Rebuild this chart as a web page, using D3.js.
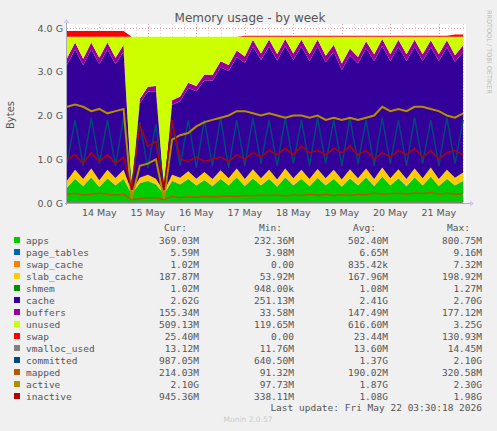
<!DOCTYPE html>
<html><head><meta charset="utf-8">
<script src="https://cdn.jsdelivr.net/npm/d3@7"></script>
<style>body{margin:0;background:#f0f0f0}svg{display:block}</style>
</head><body><svg id="chart" width="497" height="431"></svg>
<script>
// samples every 4 hours from 13 May 08:00, values in GB
var apps = [0.35,0.55,0.38,0.58,0.36,0.56,0.4,0.55,0.2,0.45,0.5,0.42,0.2,0.5,0.42,0.55,0.4,0.52,0.38,0.55,0.4,0.58,0.38,0.56,0.4,0.55,0.37,0.58,0.4,0.55,0.38,0.57,0.4,0.55,0.37,0.56,0.4,0.58,0.38,0.6,0.4,0.56,0.38,0.58,0.4,0.6,0.38,0.55,0.4,0.5];
var pageTables = [0.006,0.007,0.006,0.007,0.006,0.007,0.006,0.007,0.004,0.006,0.006,0.006,0.004,0.006,0.006,0.007,0.006,0.007,0.006,0.007,0.006,0.007,0.006,0.007,0.006,0.007,0.006,0.007,0.006,0.007,0.006,0.007,0.006,0.007,0.006,0.007,0.006,0.007,0.006,0.007,0.006,0.007,0.006,0.007,0.006,0.007,0.006,0.007,0.006,0.006];
var swapCache = [0.002,0.001,0.002,0.001,0.002,0.001,0.002,0.001,0,0,0,0,0,0,0,0,0,0,0,0,0,0,0.001,0.001,0.001,0.001,0.001,0.001,0.001,0.001,0.001,0.001,0.001,0.001,0.001,0.001,0.001,0.001,0.001,0.001,0.001,0.001,0.001,0.001,0.001,0.001,0.001,0.001,0.001,0.001];
var slabCache = [0.15,0.2,0.16,0.2,0.15,0.19,0.16,0.2,0.06,0.12,0.14,0.13,0.06,0.14,0.15,0.17,0.15,0.18,0.16,0.19,0.16,0.2,0.16,0.2,0.16,0.2,0.16,0.2,0.16,0.2,0.16,0.2,0.16,0.2,0.16,0.2,0.16,0.2,0.16,0.2,0.16,0.2,0.16,0.2,0.16,0.2,0.16,0.2,0.17,0.19];
var shmem = [0.001,0.001,0.001,0.001,0.001,0.001,0.001,0.001,0.001,0.001,0.001,0.001,0.001,0.001,0.001,0.001,0.001,0.001,0.001,0.001,0.001,0.001,0.001,0.001,0.001,0.001,0.001,0.001,0.001,0.001,0.001,0.001,0.001,0.001,0.001,0.001,0.001,0.001,0.001,0.001,0.001,0.001,0.001,0.001,0.001,0.001,0.001,0.001,0.001,0.001];
var cache = [2.65,2.75,2.6,2.72,2.65,2.75,2.6,2.7,0.05,1.7,1.9,2.0,0.05,1.6,1.75,1.9,2.0,2.1,2.25,2.35,2.45,2.55,2.65,2.8,2.7,2.82,2.72,2.8,2.7,2.82,2.7,2.8,2.65,2.7,2.5,2.6,2.62,2.75,2.7,2.78,2.68,2.8,2.7,2.78,2.68,2.75,2.7,2.8,2.65,2.75];
var buffers = [0.15,0.16,0.15,0.16,0.15,0.16,0.15,0.16,0.03,0.1,0.11,0.12,0.03,0.1,0.11,0.12,0.12,0.13,0.13,0.14,0.14,0.15,0.15,0.16,0.15,0.16,0.15,0.16,0.15,0.16,0.15,0.16,0.15,0.16,0.15,0.16,0.15,0.16,0.15,0.16,0.15,0.16,0.15,0.16,0.15,0.16,0.15,0.16,0.15,0.16];
var swap = [0.13,0.13,0.13,0.13,0.13,0.13,0.13,0.13,0,0,0,0,0,0,0,0,0,0,0,0,0,0,0.025,0.025,0.025,0.025,0.025,0.025,0.025,0.025,0.025,0.025,0.025,0.025,0.025,0.025,0.025,0.025,0.025,0.025,0.025,0.025,0.025,0.025,0.025,0.025,0.025,0.025,0.05,0.05];
var memTotal = 3.8;
var vmalloc = [0.013,0.013,0.013,0.014,0.013,0.014,0.013,0.014,0.012,0.013,0.013,0.013,0.012,0.013,0.013,0.014,0.013,0.014,0.013,0.014,0.013,0.014,0.013,0.014,0.013,0.014,0.013,0.014,0.013,0.014,0.013,0.014,0.013,0.014,0.013,0.014,0.013,0.014,0.013,0.014,0.013,0.014,0.013,0.014,0.013,0.014,0.013,0.014,0.013,0.013];
var committed = [0.9,1.9,0.85,1.95,0.9,1.9,0.85,1.95,0.35,1.85,0.8,1.8,0.3,1.85,0.85,1.9,0.8,1.9,0.85,1.95,0.8,1.9,0.85,1.95,0.9,1.9,0.85,1.95,0.9,1.9,0.85,1.95,0.9,1.9,0.85,1.95,0.9,1.9,0.85,1.95,0.9,1.9,0.85,1.95,0.9,1.9,0.85,1.95,0.9,1.9];
var mapped = [0.2,0.22,0.18,0.2,0.22,0.2,0.18,0.2,0.08,0.1,0.12,0.12,0.08,0.15,0.12,0.14,0.13,0.15,0.14,0.15,0.16,0.15,0.17,0.16,0.18,0.17,0.18,0.16,0.18,0.17,0.2,0.18,0.2,0.17,0.19,0.18,0.2,0.19,0.22,0.2,0.21,0.22,0.2,0.23,0.22,0.24,0.2,0.22,0.2,0.21];
var active = [2.2,2.25,2.2,2.1,2.15,2.05,2.1,2.15,0.1,0.85,0.9,1.0,0.1,1.45,1.55,1.6,1.75,1.85,1.9,1.95,2.0,2.1,2.1,2.05,2.0,2.05,2.0,1.95,2.0,2.0,1.95,2.0,1.9,1.95,1.9,1.95,1.9,1.95,2.0,2.2,2.1,2.15,2.1,2.2,2.2,2.15,2.1,2.0,1.95,2.05];
var inactive = [1.0,1.1,0.9,1.15,0.95,1.1,0.9,1.05,0.3,1.8,1.3,1.4,0.3,1.9,1.0,0.95,1.05,0.95,1.0,1.05,0.95,1.1,1.0,1.15,1.05,1.2,1.1,1.25,1.1,1.3,1.15,1.2,1.1,1.25,1.15,1.3,1.1,1.2,1.0,1.15,1.05,1.2,1.1,1.25,1.05,1.2,1.0,1.15,1.2,1.1];

var dayLabels = ["14 May","15 May","16 May","17 May","18 May","19 May","20 May","21 May"];
var yTicks = [0,1,2,3,4];

var legendNames = ["apps","page_tables","swap_cache","slab_cache","shmem","cache","buffers","unused","swap","vmalloc_used","committed","mapped","active","inactive"];
var legendColors = ["#00CC00","#0066B3","#FF8000","#FFCC00","#008F00","#330099","#990099","#CCFF00","#FF0000","#808080","#00487D","#B35A00","#B38F00","#B30000"];
var curVals = ["369.03M","5.59M","1.02M","187.87M","1.02M","2.62G","155.34M","509.13M","25.40M","13.12M","987.05M","214.03M","2.10G","945.36M"];
var minVals = ["232.36M","3.98M","0.00","53.92M","948.00k","251.13M","33.58M","119.65M","0.00","11.76M","640.50M","91.32M","97.73M","338.11M"];
var avgVals = ["502.40M","6.65M","835.42k","167.96M","1.08M","2.41G","147.49M","616.60M","23.44M","13.60M","1.37G","190.02M","1.87G","1.08G"];
var maxVals = ["800.75M","9.16M","7.32M","198.92M","1.27M","2.70G","177.12M","3.25G","130.93M","14.45M","2.10G","320.58M","2.30G","1.98G"];

var svg = d3.select("#chart");
var L = 67, R = 466, T = 28, B = 203;
var start = new Date(2026, 4, 13, 8, 0);
var hour = 3600e3;
var x = d3.scaleTime().domain([start, new Date(+start + 399 / 48.5 * 24 * hour)]).range([L, R]);
var y = d3.scaleLinear().domain([0, 4]).range([B, T]);

var rows = apps.map(function(d, i) {
  var r = {t: new Date(+start + i * 4 * hour), apps: d, page_tables: pageTables[i], swap_cache: swapCache[i],
    slab_cache: slabCache[i], shmem: shmem[i], cache: cache[i], buffers: buffers[i], swap: swap[i]};
  r.unused = Math.max(0, memTotal - d - pageTables[i] - swapCache[i] - slabCache[i] - shmem[i] - cache[i] - buffers[i]);
  return r;
});
var stackKeys = legendNames.slice(0, 9);
var series = d3.stack().keys(stackKeys)(rows);

svg.append("rect").attr("x", L).attr("y", T - 4).attr("width", R - L).attr("height", B - T + 4).attr("fill", "#fff");

// grid
var g = svg.append("g");
d3.range(0, 4.01, 0.5).forEach(function(v) {
  g.append("line").attr("x1", L).attr("x2", R).attr("y1", y(v) + 0.5).attr("y2", y(v) + 0.5)
    .attr("stroke", v % 1 === 0 ? "#e8a0a0" : "#f0d0d0").attr("stroke-dasharray", "1,2");
});
x.ticks(d3.timeHour.every(6)).forEach(function(t) {
  g.append("line").attr("x1", Math.round(x(t)) + 0.5).attr("x2", Math.round(x(t)) + 0.5).attr("y1", T - 4).attr("y2", B)
    .attr("stroke", t.getHours() === 0 ? "#e8a0a0" : "#f0d0d0").attr("stroke-dasharray", "1,2");
});

var area = d3.area().x(function(d) { return x(d.data.t); }).y0(function(d) { return y(d[0]); }).y1(function(d) { return y(d[1]); });
svg.append("g").selectAll("path").data(series).join("path")
  .attr("d", area).attr("fill", function(d, i) { return legendColors[i]; });

var lineSeries = [vmalloc, committed, mapped, active, inactive];
lineSeries.forEach(function(arr, k) {
  var line = d3.line().x(function(d, i) { return x(rows[i].t); }).y(function(d) { return y(d); });
  svg.append("path").attr("d", line(arr)).attr("fill", "none")
    .attr("stroke", legendColors[9 + k]).attr("stroke-width", k === 3 ? 2 : 1.5);
});

// axes
svg.append("line").attr("x1", L - 2).attr("x2", R + 4).attr("y1", B + 0.5).attr("y2", B + 0.5).attr("stroke", "#aab");
svg.append("line").attr("x1", L - 0.5).attr("x2", L - 0.5).attr("y1", T - 6).attr("y2", B + 2).attr("stroke", "#aab");
svg.append("path").attr("d", "M" + (R + 4) + "," + (B - 2.5) + "L" + (R + 8) + "," + (B + 0.5) + "L" + (R + 4) + "," + (B + 3.5) + "Z").attr("fill", "#cce");
svg.append("path").attr("d", "M" + (L - 3.5) + "," + (T - 5) + "L" + (L - 0.5) + "," + (T - 9) + "L" + (L + 2.5) + "," + (T - 5) + "Z").attr("fill", "#cce");

var font = "'DejaVu Sans', sans-serif";
var txt = "#555";
svg.selectAll(".yt").data(yTicks).join("text")
  .attr("x", L - 4).attr("y", function(d) { return y(d) + 3.5; }).attr("text-anchor", "end")
  .attr("font-family", font).attr("font-size", 9.5).attr("fill", txt)
  .text(function(d) { return d.toFixed(1) + " G"; });
svg.selectAll(".xt").data(dayLabels).join("text")
  .attr("x", function(d, i) { return x(new Date(2026, 4, 14 + i)); }).attr("y", B + 13).attr("text-anchor", "middle")
  .attr("font-family", font).attr("font-size", 9.5).attr("fill", txt).text(function(d) { return d; });

svg.append("text").attr("x", 250).attr("y", 22).attr("text-anchor", "middle").attr("font-family", font)
  .attr("font-size", 12).attr("fill", "#555").text("Memory usage - by week");
svg.append("text").attr("transform", "translate(14,115) rotate(-90)").attr("text-anchor", "middle")
  .attr("font-family", font).attr("font-size", 10).attr("fill", txt).text("Bytes");
svg.append("text").attr("transform", "translate(487,10) rotate(90)").attr("font-family", font)
  .attr("font-size", 6.5).attr("fill", "#bbb").text("RRDTOOL / TOBI OETIKER");

// legend
var mono = "'DejaVu Sans Mono', monospace";
var leg = svg.append("g").attr("font-family", mono).attr("font-size", 9.5).attr("fill", txt);
var colRight = [199, 294, 388, 482];
["Cur:", "Min:", "Avg:", "Max:"].forEach(function(h, i) {
  leg.append("text").attr("x", colRight[i] - 12).attr("y", 231).attr("text-anchor", "end").text(h);
});
legendNames.forEach(function(n, i) {
  var yy = 240 + i * 12;
  leg.append("rect").attr("x", 14).attr("y", yy - 3).attr("width", 6).attr("height", 6).attr("fill", legendColors[i]);
  leg.append("text").attr("x", 26).attr("y", yy + 3.5).text(n);
  [curVals, minVals, avgVals, maxVals].forEach(function(arr, c) {
    leg.append("text").attr("x", colRight[c]).attr("y", yy + 3.5).attr("text-anchor", "end").text(arr[i]);
  });
});
leg.append("text").attr("x", 482).attr("y", 411).attr("text-anchor", "end").text("Last update: Fri May 22 03:30:18 2026");
svg.append("text").attr("x", 248).attr("y", 422).attr("text-anchor", "middle").attr("font-family", font)
  .attr("font-size", 7.5).attr("fill", "#ccc").text("Munin 2.0.57");
</script></body></html>
